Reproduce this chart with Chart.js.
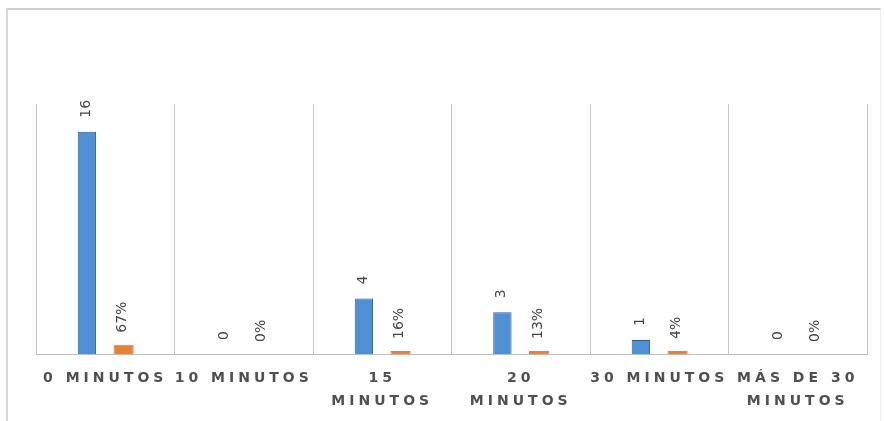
<!DOCTYPE html>
<html>
<head>
<meta charset="utf-8">
<script src="https://cdn.jsdelivr.net/npm/chart.js@4/dist/chart.umd.min.js"></script>
<style>
  html, body { margin: 0; padding: 0; background: #fff; }
  #wrap { position: relative; width: 884px; height: 421px; }
  #frame {
    position: absolute; left: 6px; top: 8px; width: 872px; height: 420px;
    border-top: 2px solid #cfcfcf; border-left: 2px solid #d6d6d6; border-right: 1px solid #efefef;
    pointer-events: none;
  }
</style>
</head>
<body>
<div id="wrap">
  <canvas id="chart" width="884" height="421"></canvas>
  <div id="frame"></div>
</div>
<script>
// Data
const categories = [
  '0 MINUTOS',
  '10 MINUTOS',
  ['15', 'MINUTOS'],
  ['20', 'MINUTOS'],
  '30 MINUTOS',
  ['MÁS DE 30', 'MINUTOS']
];
const counts = [16, 0, 4, 3, 1, 0];
const shares = [0.67, 0, 0.16, 0.13, 0.04, 0];
const yMax = 18;

// Value labels, rotated like the original
const valueLabels = {
  id: 'valueLabels',
  beforeDraw(chart) {
    chart.ctx.letterSpacing = '4px';
  },
  beforeDatasetsDraw(chart) {
    chart.ctx.letterSpacing = '0px';
  },
  afterDatasetsDraw(chart) {
    const ctx = chart.ctx;
    ctx.save();
    ctx.font = '14px "DejaVu Sans"';
    ctx.fillStyle = '#454545';
    ctx.textAlign = 'left';
    ctx.textBaseline = 'middle';
    chart.data.datasets.forEach((ds, i) => {
      const gap = i === 0 ? 14 : 12;
      chart.getDatasetMeta(i).data.forEach((bar, j) => {
        const v = ds.data[j];
        const text = i === 0 ? String(v) : Math.round(v * 100) + '%';
        const top = v === 0 ? bar.base : bar.y;
        ctx.save();
        ctx.translate(bar.x - 1, top - gap);
        ctx.rotate(-Math.PI / 2);
        ctx.fillText(text, 0, 0);
        ctx.restore();
      });
    });
    ctx.restore();
  }
};

const hideZero = color => c => (c.raw === 0 ? 'rgba(0,0,0,0)' : color);

new Chart(document.getElementById('chart'), {
  type: 'bar',
  data: {
    labels: categories,
    datasets: [
      {
        label: 'Cantidad',
        data: counts,
        backgroundColor: hideZero('#4f8fd4'),
        borderColor: hideZero('#2d5f94'),
        borderWidth: 1,
        barPercentage: 0.5
      },
      {
        label: 'Porcentaje',
        data: shares,
        backgroundColor: hideZero('#e8823a'),
        borderColor: hideZero('#c7895f'),
        borderWidth: 1,
        minBarLength: 3,
        barPercentage: 0.55
      }
    ]
  },
  options: {
    responsive: false,
    animation: false,
    categoryPercentage: 0.53,
    layout: { padding: { left: 36, right: 17, top: 104, bottom: 0 } },
    plugins: {
      legend: { display: false },
      tooltip: { enabled: false }
    },
    scales: {
      x: {
        grid: { offset: true, color: '#c4c4c4', lineWidth: 1, drawTicks: false },
        border: { display: true, color: '#bdbdbd' },
        ticks: {
          autoSkip: false,
          maxRotation: 0,
          padding: 13,
          color: '#505050',
          font: { family: 'DejaVu Sans', size: 14, weight: 'bold', lineHeight: 1.65 }
        },
        afterFit(scale) { scale.height = 67; }
      },
      y: {
        display: false,
        min: 0,
        max: yMax
      }
    }
  },
  plugins: [valueLabels]
});
</script>
</body>
</html>
